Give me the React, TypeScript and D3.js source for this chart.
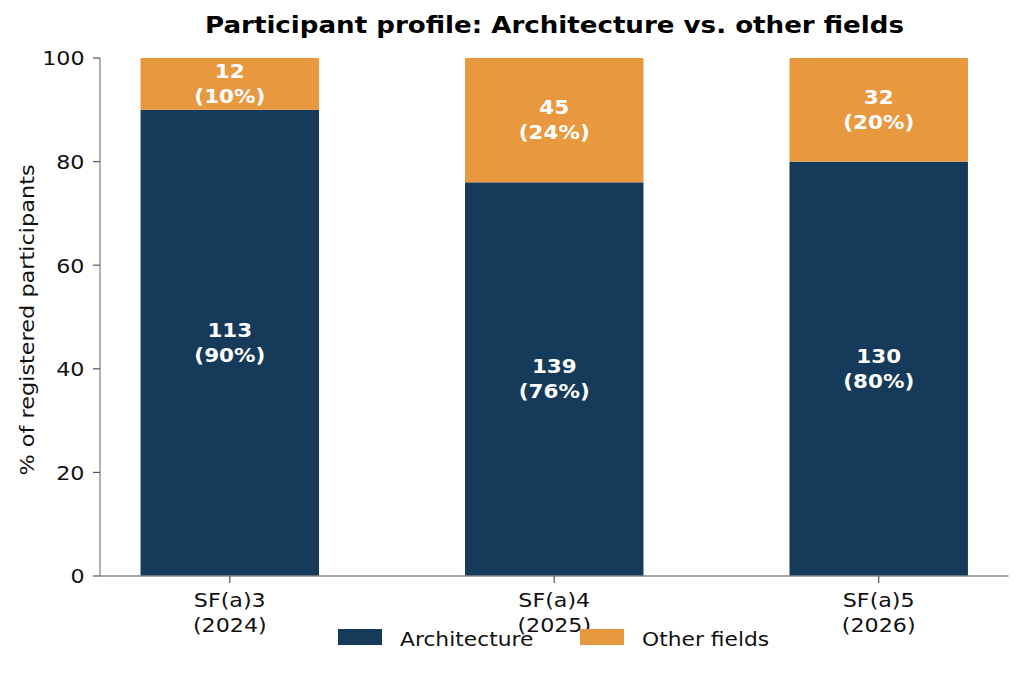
import React from "react";
import * as d3 from "d3";

const categories = ["SF(a)3\n(2024)", "SF(a)4\n(2025)", "SF(a)5\n(2026)"];
const architecture = [113, 139, 130];
const otherFields = [12, 45, 32];
const yTicks = [0, 20, 40, 60, 80, 100];
const seriesNames = ["Architecture", "Other fields"];
const colors = ["#163A59", "#E8983F"];

const W = 1024;
const H = 673;
const FONT = "DejaVu Sans, Verdana, sans-serif";
const SX = 1.11;

type TProps = {
  x: number;
  y: number;
  anchor?: "start" | "middle" | "end";
  size: number;
  bold?: boolean;
  fill?: string;
  rotate?: number;
  sx?: number;
  children: React.ReactNode;
};

function T({ x, y, anchor = "start", size, bold, fill = "#111", rotate = 0, sx = SX, children }: TProps) {
  return (
    <g transform={`translate(${x},${y}) rotate(${rotate}) scale(${sx},1)`}>
      <text x={0} y={0} textAnchor={anchor} fontSize={size} fontWeight={bold ? "bold" : "normal"} fontFamily={FONT} fill={fill}>
        {children}
      </text>
    </g>
  );
}

export default function App() {
  const x = d3.scaleLinear().domain([-0.4, categories.length - 1 + 0.4]).range([100, 1008.5]);
  const y = d3.scaleLinear().domain([0, 100]).range([576, 58]);
  const barW = x(0.55) - x(0);

  const rows = categories.map((c, i) => {
    const total = architecture[i] + otherFields[i];
    const pa = Math.round((architecture[i] / total) * 100);
    const po = 100 - pa;
    return { c, i, pa, po, a: architecture[i], o: otherFields[i] };
  });

  const label = (key: string, cx: number, cy: number, n: number, p: number) => (
    <g key={key}>
      <T x={cx} y={cy - 6} anchor="middle" size={19.5} bold fill="#fff" sx={1.1}>{n}</T>
      <T x={cx} y={cy + 19} anchor="middle" size={19.5} bold fill="#fff" sx={1.1}>({p}%)</T>
    </g>
  );

  return (
    <svg width={W} height={H} style={{ position: "absolute", left: 0, top: 0, background: "#fff" }}>
      <rect x={0} y={0} width={W} height={H} fill="#fff" />
      <T x={554.5} y={32.5} anchor="middle" size={23} bold fill="#000" sx={1.135}>
        Participant profile: Architecture vs. other fields
      </T>
      {rows.map((r) => {
        const x0 = x(r.i) - barW / 2;
        return (
          <g key={r.i}>
            <rect x={x0} y={y(r.pa)} width={barW} height={y(0) - y(r.pa)} fill={colors[0]} />
            <rect x={x0} y={y(r.pa + r.po)} width={barW} height={y(r.pa) - y(r.pa + r.po)} fill={colors[1]} />
            {label("a", x(r.i), (y(0) + y(r.pa)) / 2, r.a, r.pa)}
            {label("o", x(r.i), (y(r.pa) + y(100)) / 2, r.o, r.po)}
          </g>
        );
      })}
      {/* y axis */}
      <line x1={100} x2={100} y1={y(0)} y2={y(100)} stroke="#888" strokeWidth={1.3} />
      {yTicks.map((t) => (
        <g key={t}>
          <line x1={93} x2={100} y1={y(t)} y2={y(t)} stroke="#555" strokeWidth={1.2} />
          <T x={84.5} y={y(t) + 7.3} anchor="end" size={20}>{t}</T>
        </g>
      ))}
      <T x={34} y={320} anchor="middle" size={20} rotate={-90} sx={1.12}>
        % of registered participants
      </T>
      {/* x axis */}
      <line x1={100} x2={1008.5} y1={y(0)} y2={y(0)} stroke="#888" strokeWidth={1.3} />
      {categories.map((c, i) => (
        <g key={c}>
          <line x1={x(i)} x2={x(i)} y1={576} y2={583} stroke="#555" strokeWidth={1.2} />
          {c.split("\n").map((s, k) => (
            <T key={k} x={x(i)} y={607 + k * 24.5} anchor="middle" size={20}>{s}</T>
          ))}
        </g>
      ))}
      {/* legend */}
      {seriesNames.map((s, k) => {
        const lx = [338, 580][k];
        return (
          <g key={s}>
            <rect x={lx} y={629} width={44} height={16} fill={colors[k]} />
            <T x={lx + 62} y={646} size={20} sx={1.09}>{s}</T>
          </g>
        );
      })}
    </svg>
  );
}
